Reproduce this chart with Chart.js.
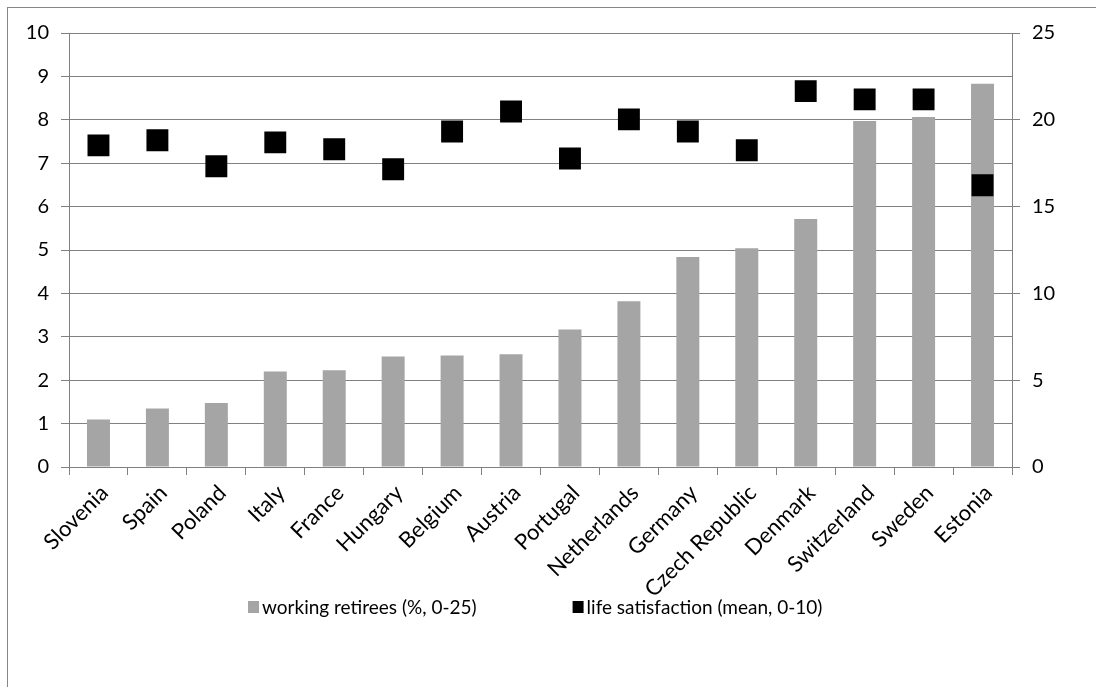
<!DOCTYPE html>
<html>
<head>
<meta charset="utf-8">
<title>Working retirees and life satisfaction</title>
<script src="https://cdn.jsdelivr.net/npm/chart.js@4.4.1/dist/chart.umd.min.js"></script>
<style>
    html, body { margin: 0; padding: 0; background: #fff; }
    #wrap { position: relative; width: 1096px; height: 687px; overflow: hidden; }
    #frame { position: absolute; left: 7px; top: 7px; width: 1200px; height: 800px; border: 1px solid #868686; }
    canvas { position: absolute; left: 0; top: 0; }
</style>
</head>
<body>
<div id="wrap">
    <div id="frame"></div>
    <canvas id="retireeChart" width="1096" height="687"></canvas>
</div>
<script>
// Data
const countries = ["Slovenia", "Spain", "Poland", "Italy", "France", "Hungary", "Belgium", "Austria",
    "Portugal", "Netherlands", "Germany", "Czech Republic", "Denmark", "Switzerland", "Sweden", "Estonia"]
const workingRetirees = [2.73, 3.37, 3.69, 5.5, 5.57, 6.36, 6.42, 6.5, 7.92, 9.55, 12.1, 12.6, 14.28, 19.93, 20.16, 22.08]
const lifeSatisfaction = [7.41, 7.53, 6.93, 7.48, 7.32, 6.86, 7.73, 8.19, 7.11, 8.01, 7.73, 7.3, 8.66, 8.47, 8.47, 6.49]
const leftAxisTicks = [0, 1, 2, 3, 4, 5, 6, 7, 8, 9, 10]
const rightAxisTicks = [0, 5, 10, 15, 20, 25]

const Chart = window.Chart
const axisGray = "#808080"
const tickFont = { family: "Lato", size: 20 }
const categoryFont = { family: "Lato", size: 22 }

// Legend drawn under the axis labels, Excel style
const bottomLegend = {
    id: "bottomLegend",
    afterDraw(chart) {
        const ctx = chart.ctx
        const box = 11
        const textGap = 3
        const itemGap = 96
        const startX = 248
        const centerY = 607
        ctx.save()
        ctx.font = "19px Lato"
        ctx.textBaseline = "middle"
        const items = chart.data.datasets.map((ds) => ({ text: ds.label, color: ds.backgroundColor }))
        let x = startX
        items.forEach((it) => {
            ctx.fillStyle = it.color
            ctx.fillRect(x, centerY - 6, box, 12)
            ctx.fillStyle = "#000"
            ctx.fillText(it.text, x + box + textGap, centerY + 1)
            x += box + textGap + ctx.measureText(it.text).width + itemGap
        })
        ctx.restore()
    },
}

const ctx = document.getElementById("retireeChart").getContext("2d")
new Chart(ctx, {
    type: "bar",
    data: {
        labels: countries,
        datasets: [
            {
                type: "bar",
                label: "working retirees (%, 0-25)",
                data: workingRetirees,
                backgroundColor: "#a5a5a5",
                yAxisID: "yRight",
                barPercentage: 0.39,
                categoryPercentage: 1,
                order: 2,
            },
            {
                type: "line",
                label: "life satisfaction (mean, 0-10)",
                data: lifeSatisfaction,
                showLine: false,
                pointStyle: "rect",
                pointRadius: 15.5,
                pointHoverRadius: 15.5,
                pointBorderWidth: 0,
                backgroundColor: "#000000",
                borderColor: "#000000",
                yAxisID: "yLeft",
                order: 1,
            },
        ],
    },
    options: {
        responsive: false,
        animation: false,
        layout: { padding: { top: 33, left: 0, right: 0, bottom: 0 } },
        plugins: {
            legend: { display: false },
            tooltip: { enabled: false },
        },
        scales: {
            x: {
                grid: { offset: true, drawOnChartArea: false, color: axisGray, tickLength: 8 },
                border: { color: axisGray },
                ticks: {
                    minRotation: 45, maxRotation: 45, autoSkip: false,
                    color: "#000", font: categoryFont, padding: 5, labelOffset: 6,
                },
                afterFit: (scale) => { scale.height = 220 },
            },
            yLeft: {
                position: "left",
                min: 0,
                max: 10,
                afterBuildTicks: (scale) => { scale.ticks = leftAxisTicks.map((v) => ({ value: v })) },
                grid: { color: axisGray, tickLength: 8 },
                border: { color: axisGray },
                ticks: { color: "#000", font: tickFont, padding: 12 },
                afterFit: (scale) => { scale.width = 69 },
            },
            yRight: {
                position: "right",
                min: 0,
                max: 25,
                afterBuildTicks: (scale) => { scale.ticks = rightAxisTicks.map((v) => ({ value: v })) },
                grid: { drawOnChartArea: false, color: axisGray, tickLength: 8 },
                border: { color: axisGray },
                ticks: { color: "#000", font: tickFont, padding: 12 },
                afterFit: (scale) => { scale.width = 84 },
            },
        },
    },
    plugins: [bottomLegend],
})
</script>
</body>
</html>
